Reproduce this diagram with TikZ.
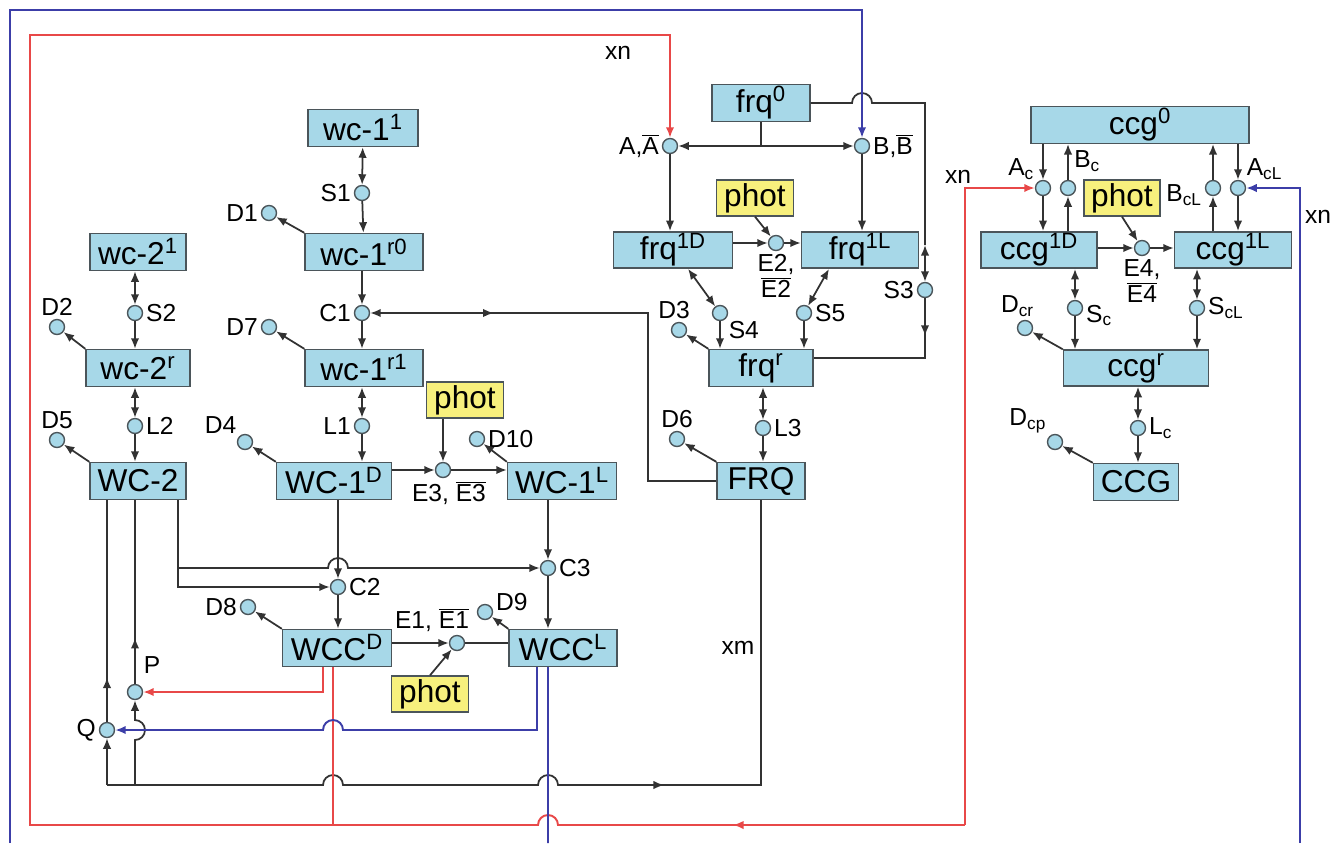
\documentclass[tikz,border=0pt]{standalone}
\usepackage{fontspec}
\setmainfont{Liberation Sans}
\usepackage{xcolor}
\usetikzlibrary{arrows.meta,calc,decorations.markings}

\definecolor{boxfill}{RGB}{167,216,232}
\definecolor{boxline}{RGB}{75,85,90}
\definecolor{photfill}{RGB}{247,240,125}
\definecolor{wiregray}{RGB}{50,50,50}
\definecolor{xnred}{RGB}{232,72,72}
\definecolor{xnblue}{RGB}{60,62,168}

\newcommand{\bfs}{\fontsize{18}{20}\selectfont}
\newcommand{\lfs}{\fontsize{14}{15}\selectfont}
\newcommand{\ovl}[1]{$\overline{\mbox{#1}}$}

\tikzset{
  species/.style={draw=boxline, fill=boxfill, line width=0.8pt, minimum height=0.74cm, inner sep=1pt, font=\bfs},
  photbox/.style={draw=boxline, fill=photfill, line width=0.8pt, minimum width=1.54cm, minimum height=0.72cm, inner sep=1pt, font=\bfs},
  rxn/.style={circle, draw=boxline, fill=boxfill, line width=0.8pt, minimum size=0.3cm, inner sep=0pt},
  lab/.style={font=\lfs, inner sep=1.5pt},
  wire/.style={draw=wiregray, line width=1pt},
  redwire/.style={draw=xnred, line width=1.1pt},
  bluewire/.style={draw=xnblue, line width=1.1pt},
  midarrow/.style={postaction={decorate}, decoration={markings, mark=at position #1 with {\arrow{>}}}},
  >={Latex[length=6pt,width=4.8pt]}
}

\begin{document}
\begin{tikzpicture}[x=0.02cm, y=-0.02cm]
    \useasboundingbox (0,0) rectangle (1344,843);

    % wc-1 branch
    \node[species, minimum width=2.2cm] (w11) at (363,128) {wc-1\textsuperscript{1}};
    \node[species, minimum width=2.36cm] (w1r0) at (364,252) {wc-1\textsuperscript{r0}};
    \node[species, minimum width=2.36cm] (w1r1) at (364,368) {wc-1\textsuperscript{r1}};
    \node[species, minimum width=2.3cm] (WC1D) at (334,481) {WC-1\textsuperscript{D}};
    \node[species, minimum width=2.18cm] (WC1L) at (562,481) {WC-1\textsuperscript{L}};
    \node[photbox] (phE3) at (465,400) {phot};
    \node[rxn, label={[lab]left:S1}] (S1) at (362,193) {};
    \node[rxn, label={[lab]left:D1}] (D1) at (269,213) {};
    \node[rxn, label={[lab]left:C1}] (C1) at (362,313) {};
    \node[rxn, label={[lab]left:D7}] (D7) at (269,327) {};
    \node[rxn, label={[lab]left:L1}] (L1) at (362,426) {};
    \node[rxn, label={[lab]above left:D4}] (D4) at (245,442) {};
    \node[rxn, label={[lab,xshift=0.12cm]below:{E3, \ovl{E3}}}] (E3) at (443,470) {};
    \node[rxn, label={[lab]right:D10}] (D10) at (477,439) {};

    % wc-2 branch
    \node[species, minimum width=1.92cm] (w21) at (138,252) {wc-2\textsuperscript{1}};
    \node[species, minimum width=2.08cm] (w2r) at (138,368) {wc-2\textsuperscript{r}};
    \node[species, minimum width=1.92cm] (WC2) at (138,481) {WC-2};
    \node[rxn, label={[lab]right:S2}] (S2) at (135,313) {};
    \node[rxn, label={[lab]above:D2}] (D2) at (57,327) {};
    \node[rxn, label={[lab]right:L2}] (L2) at (135,426) {};
    \node[rxn, label={[lab]above:D5}] (D5) at (57,440) {};

    % WCC complex
    \node[species, minimum width=2.18cm] (WCCD) at (337,648) {WCC\textsuperscript{D}};
    \node[species, minimum width=2.16cm] (WCCL) at (563,648) {WCC\textsuperscript{L}};
    \node[photbox] (phE1) at (430,694) {phot};
    \node[rxn, label={[lab]right:C2}] (C2) at (338,587) {};
    \node[rxn, label={[lab]right:C3}] (C3) at (548,568) {};
    \node[rxn, label={[lab]left:D8}] (D8) at (248,607) {};
    \node[rxn, label={[lab,xshift=-0.5cm]above:{E1, \ovl{E1}}}] (E1) at (457,643) {};
    \node[rxn, label={[lab,yshift=0.2cm]right:D9}] (D9) at (485,612) {};
    \node[rxn, label={[lab,yshift=0.2cm]above right:P}] (P) at (135,692) {};
    \node[rxn, label={[lab]left:Q}] (Q) at (107,730) {};

    % frq branch
    \node[species, minimum width=1.96cm] (frq0) at (761,103) {frq\textsuperscript{0}};
    \node[species, minimum width=2.38cm, minimum height=0.72cm] (frq1D) at (673,250) {frq\textsuperscript{1D}};
    \node[species, minimum width=2.34cm, minimum height=0.72cm] (frq1L) at (860,250) {frq\textsuperscript{1L}};
    \node[species, minimum width=2.08cm] (frqr) at (761,368) {frq\textsuperscript{r}};
    \node[species, minimum width=1.76cm] (FRQ) at (761,481) {FRQ};
    \node[photbox] (phE2) at (755,198) {phot};
    \node[rxn, label={[lab]left:{A,\ovl{A}}}] (A) at (670,146) {};
    \node[rxn, label={[lab]right:{B,\ovl{B}}}] (B) at (862,146) {};
    \node[rxn, label={[lab,align=center]below:{E2,\\\ovl{E2}}}] (E2) at (776,243) {};
    \node[rxn, label={[lab]below right:S4}] (S4) at (720,313) {};
    \node[rxn, label={[lab]right:S5}] (S5) at (804,313) {};
    \node[rxn, label={[lab]left:S3}] (S3) at (925,290) {};
    \node[rxn, label={[lab,xshift=-0.1cm]above:D3}] (D3) at (679,330) {};
    \node[rxn, label={[lab]right:L3}] (L3) at (763,428) {};
    \node[rxn, label={[lab]above:D6}] (D6) at (677,439) {};

    % ccg branch
    \node[species, minimum width=4.36cm, minimum height=0.72cm] (ccg0) at (1140,125) {ccg\textsuperscript{0}};
    \node[species, minimum width=2.32cm, minimum height=0.72cm] (ccg1D) at (1039,250) {ccg\textsuperscript{1D}};
    \node[species, minimum width=2.34cm, minimum height=0.72cm] (ccg1L) at (1233,250) {ccg\textsuperscript{1L}};
    \node[species, minimum width=2.9cm, minimum height=0.72cm] (ccgr) at (1136,368) {ccg\textsuperscript{r}};
    \node[species, minimum width=1.7cm] (CCG) at (1136,482) {CCG};
    \node[photbox, minimum width=1.52cm] (phE4) at (1122,198) {phot};
    \node[rxn, label={[lab]above left:A\textsubscript{c}}] (Ac) at (1043,188) {};
    \node[rxn, label={[lab,yshift=0.15cm,xshift=-0.05cm]above right:B\textsubscript{c}}] (Bc) at (1068,188) {};
    \node[rxn, label={[lab,yshift=-0.15cm]left:B\textsubscript{cL}}] (BcL) at (1213,188) {};
    \node[rxn, label={[lab]above right:A\textsubscript{cL}}] (AcL) at (1238,188) {};
    \node[rxn, label={[lab,align=center]below:{E4,\\\ovl{E4}}}] (E4) at (1142,248) {};
    \node[rxn, label={[lab,yshift=-0.15cm]right:S\textsubscript{c}}] (Sc) at (1075,308) {};
    \node[rxn, label={[lab]right:S\textsubscript{cL}}] (ScL) at (1197,308) {};
    \node[rxn, label={[lab,xshift=-0.15cm]above:D\textsubscript{cr}}] (Dcr) at (1025,328) {};
    \node[rxn, label={[lab]right:L\textsubscript{c}}] (Lc) at (1138,428) {};
    \node[rxn, label={[lab]above left:D\textsubscript{cp}}] (Dcp) at (1055,442) {};

    % signal labels
    \node[lab] (xnA) at (618,53) {xn};
    \node[lab] (xnAc) at (958,177) {xn};
    \node[lab] (xnAcL) at (1318,217) {xn};
    \node[lab] (xm) at (738,648) {xm};

    % free corners
    \coordinate (redtop) at (30,35);
    \coordinate (redbot) at (30,825);
    \coordinate (redjoin) at (333,825);
    \coordinate (bluetop) at (10,10);
    \coordinate (bq) at (107,785);
    \coordinate (bp) at (135,785);
    \coordinate (wj) at (177,568);
    \coordinate (c1r) at (648,313);
    \coordinate (s3top) at (925,245);
    \coordinate (s3bot) at (925,358);

    % wc-1 reactions
    \draw[wire,<->] (w11) -- (S1);
    \draw[wire,->] (S1) -- (w1r0);
    \draw[wire,->] (w1r0.north west) -- (D1);
    \draw[wire,->] (w1r0.south -| C1) -- (C1);
    \draw[wire,->] (C1) -- (C1 |- w1r1.north);
    \draw[wire,->] (w1r1.north west) -- (D7);
    \draw[wire,<->] (w1r1.south -| L1) -- (L1);
    \draw[wire,->] (L1) -- (L1 |- WC1D.north);
    \draw[wire,->] (WC1D.north west) -- (D4);
    \draw[wire,->] (WC1D.east |- E3) -- (E3);
    \draw[wire,->] (E3) -- (E3 -| WC1L.west);
    \draw[wire,->] (phE3.south -| E3) -- (E3);
    \draw[wire,->] (WC1L.north west) -- (D10);

    % wc-2 reactions
    \draw[wire,<->] (w21.south -| S2) -- (S2);
    \draw[wire,->] (S2) -- (S2 |- w2r.north);
    \draw[wire,->] (w2r.north west) -- (D2);
    \draw[wire,<->] (w2r.south -| L2) -- (L2);
    \draw[wire,->] (L2) -- (L2 |- WC2.north);
    \draw[wire,->] (WC2.north west) -- (D5);

    % complex formation
    \draw[wire,->] ([xshift=-0.18cm]WC2.south east) |- (C2);
    \draw[wire,->] (wj) -- (328,568) arc[start angle=180, end angle=0, radius=0.2cm] -- (C3);
    \draw[wire,->] (WC1D.south -| C2) -- (C2);
    \draw[wire,->] (WC1L.south -| C3) -- (C3);
    \draw[wire,->] (C2) -- (C2 |- WCCD.north);
    \draw[wire,->] (C3) -- (C3 |- WCCL.north);
    \draw[wire,->] (WCCD.north west) -- (D8);
    \draw[wire,->] (WCCL.north west) -- (D9);
    \draw[wire,->] (WCCD.east |- E1) -- (E1);
    \draw[wire] (E1) -- (E1 -| WCCL.west);
    \draw[wire,->] (phE1.north) -- (E1);

    % P and Q feedback
    \draw[wire,midarrow=0.2] (Q) -- (Q |- WC2.south);
    \draw[wire,midarrow=0.25] (P) -- (P |- WC2.south);
    \draw[wire,->] (bq) -- (Q);
    \draw[wire,->] (bp) -- (135,740) arc[start angle=-90, end angle=90, radius=0.2cm] -- (P);
    \draw[wire,->] (bq) -- (323,785) arc[start angle=180, end angle=0, radius=0.2cm]
        -- (538,785) arc[start angle=180, end angle=0, radius=0.2cm] -- (664,785);
    \draw[wire] (660,785) -| (FRQ.south);

    % frq reactions
    \draw[wire] (frq0.south) -- (frq0.south |- A);
    \draw[wire,<->] (A) -- (B);
    \draw[wire,->] (A) -- (A |- frq1D.north);
    \draw[wire,->] (B) -- (B |- frq1L.north);
    \draw[wire,->] (frq1D.east |- E2) -- (E2);
    \draw[wire,->] (E2) -- (E2 -| frq1L.west);
    \draw[wire,->] (phE2.south) -- (E2);
    \draw[wire,<->] ([xshift=0.3cm]frq1D.south) -- (S4);
    \draw[wire,<->] ([xshift=-0.62cm]frq1L.south) -- (S5);
    \draw[wire,->] (S4) -- (S4 |- frqr.north);
    \draw[wire,->] (S5) -- (S5 |- frqr.north);
    \draw[wire,->] (frqr.north west) -- (D3);
    \draw[wire,<->] (frqr.south -| L3) -- (L3);
    \draw[wire,->] (L3) -- (L3 |- FRQ.north);
    \draw[wire,->] (FRQ.north west) -- (D6);
    \draw[wire] (frq0.east) -- ($(B |- frq0.east)+(-10,0)$) arc[start angle=180, end angle=0, radius=0.2cm]
        -- (s3top |- frq0.east) -- (s3top);
    \draw[wire,<->] (s3top) -- (S3);
    \draw[wire,midarrow=0.22] (S3) -- (s3bot) -- (frqr.east |- s3bot);
    \draw[wire,<-,midarrow=0.24] (C1) -- (c1r) |- (FRQ.west);

    % ccg reactions
    \draw[wire,->] (ccg0.south -| Ac) -- (Ac);
    \draw[wire,->] (Ac) -- (Ac |- ccg1D.north);
    \draw[wire,->] (ccg1D.north -| Bc) -- (Bc);
    \draw[wire,->] (Bc) -- (Bc |- ccg0.south);
    \draw[wire,->] (ccg1L.north -| BcL) -- (BcL);
    \draw[wire,->] (BcL) -- (BcL |- ccg0.south);
    \draw[wire,->] (ccg0.south -| AcL) -- (AcL);
    \draw[wire,->] (AcL) -- (AcL |- ccg1L.north);
    \draw[wire,->] (ccg1D.east |- E4) -- (E4);
    \draw[wire,->] (E4) -- (E4 -| ccg1L.west);
    \draw[wire,->] (phE4.south) -- (E4);
    \draw[wire,<->] (ccg1D.south -| Sc) -- (Sc);
    \draw[wire,->] (Sc) -- (Sc |- ccgr.north);
    \draw[wire,<->] (ccg1L.south -| ScL) -- (ScL);
    \draw[wire,->] (ScL) -- (ScL |- ccgr.north);
    \draw[wire,->] (ccgr.north west) -- (Dcr);
    \draw[wire,<->] (ccgr.south -| Lc) -- (Lc);
    \draw[wire,->] (Lc) -- (Lc |- CCG.north);
    \draw[wire,->] (CCG.north west) -- (Dcp);

    % xn from WCC^D (red)
    \draw[redwire,->] ([xshift=-0.28cm]WCCD.south) |- (P);
    \draw[redwire,->] ([xshift=-0.08cm]WCCD.south) -- (redjoin) -- (redbot) -- (redtop) -- (A |- redtop) -- (A);
    \draw[redwire] (redjoin) -- (538,825) arc[start angle=180, end angle=0, radius=0.2cm] -- (737,825);
    \draw[redwire,<-] (733,825) -- (965,825);
    \draw[redwire,->] (965,825) |- (Ac);

    % xn from WCC^L (blue)
    \draw[bluewire,->] ([xshift=-0.52cm]WCCL.south) |- (343,730) arc[start angle=0, end angle=180, radius=0.2cm] -- (Q);
    \draw[bluewire] ([xshift=-0.3cm]WCCL.south) -- (548,843);
    \draw[bluewire,->] (10,843) -- (bluetop) -- (B |- bluetop) -- (B);
    \draw[bluewire,->] (1300,843) |- (AcL);
\end{tikzpicture}
\end{document}
